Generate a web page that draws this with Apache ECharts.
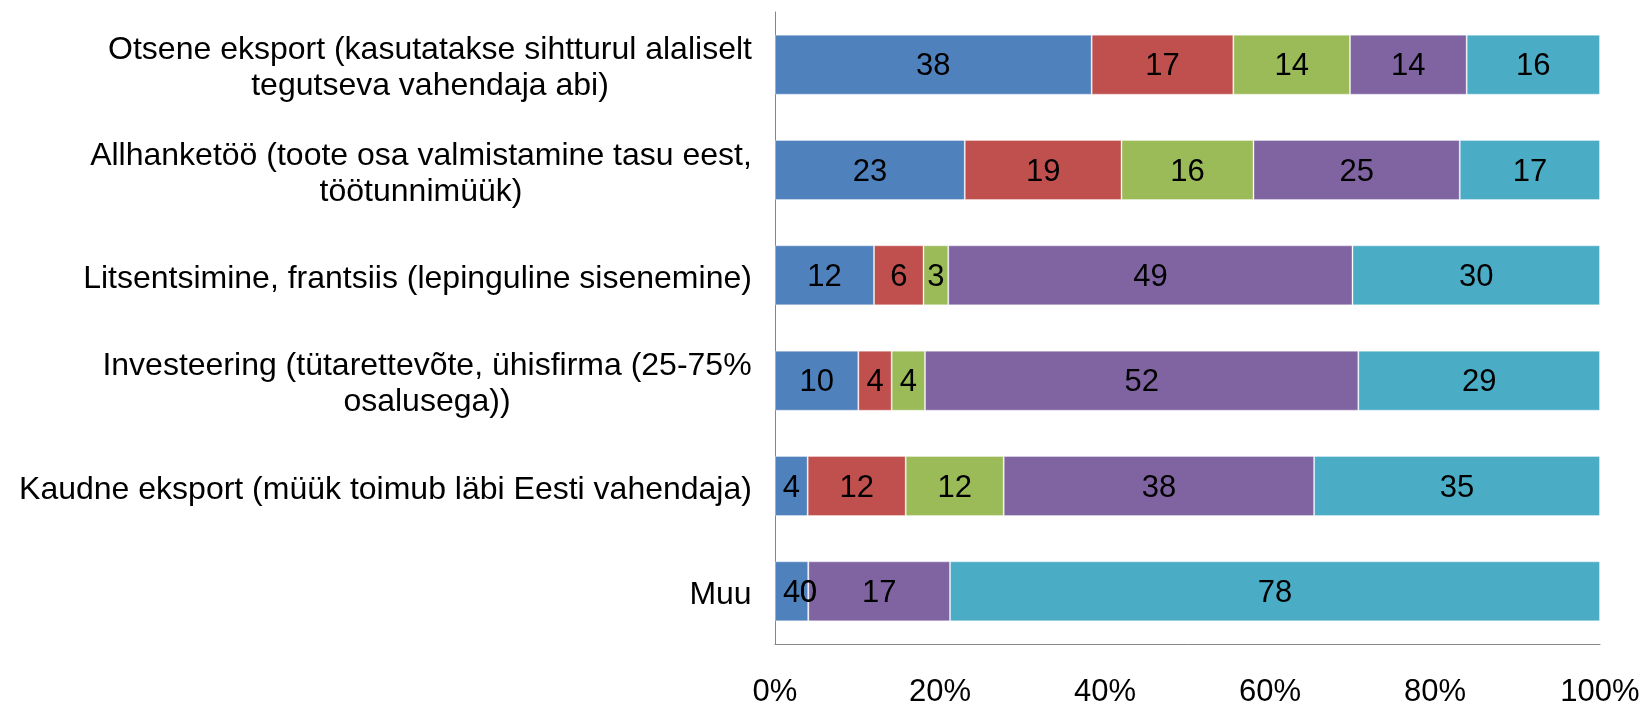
<!DOCTYPE html>
<html>
<head>
<meta charset="utf-8">
<script src="https://cdn.jsdelivr.net/npm/echarts@6/dist/echarts.min.js"></script>
<style>
  html, body { margin: 0; padding: 0; background: #fff; }
  #chart { width: 1644px; height: 708px; }
</style>
</head>
<body>
<div id="chart"></div>
<script>
// categories, top to bottom
const categories = [
  'Otsene eksport (kasutatakse sihtturul alaliselt\ntegutseva vahendaja abi)',
  'Allhanketöö (toote osa valmistamine tasu eest,\ntöötunnimüük)',
  'Litsentsimine, frantsiis (lepinguline sisenemine)',
  'Investeering (tütarettevõte, ühisfirma (25-75%\nosalusega))',
  'Kaudne eksport (müük toimub läbi Eesti vahendaja)',
  'Muu'
];

// stacked values per category (same order as categories)
const s1 = [38, 23, 12, 10, 4, 4];
const s2 = [17, 19, 6, 4, 12, 0];
const s3 = [14, 16, 3, 4, 12, 0];
const s4 = [14, 25, 49, 52, 38, 17];
const s5 = [16, 17, 30, 29, 35, 78];

const seriesNames = ['1', '2', '3', '4', '5'];
const colors = ['#4F81BD', '#C0504D', '#9BBB59', '#8064A2', '#4BACC6'];
const xTicks = [0, 20, 40, 60, 80, 100];

const FONT = '"Liberation Sans", Arial, sans-serif';
const FS_CAT = 32;
const FS = 31;

const allSeries = [s1, s2, s3, s4, s5];
const rowTotals = categories.map((_, i) => allSeries.reduce((a, s) => a + s[i], 0));

// measure each label's widest line so lines can be centred within the block
const ctx = document.createElement('canvas').getContext('2d');
ctx.font = FS_CAT + 'px ' + FONT;
const rich = {};
categories.forEach((c, i) => {
  const w = Math.max(...c.split('\n').map(l => ctx.measureText(l).width));
  rich['c' + i] = { width: Math.ceil(w), align: 'center', fontSize: FS_CAT, fontFamily: FONT, color: '#000', lineHeight: 36 };
});

const chart = echarts.init(document.getElementById('chart'));

chart.setOption({
  animation: false,
  backgroundColor: '#fff',
  grid: { left: 775, right: 44, top: 12, bottom: 61 },
  xAxis: {
    type: 'value',
    min: 0,
    max: 100,
    interval: 20,
    axisLine: { show: true, lineStyle: { color: '#868686', width: 1 } },
    axisTick: { show: false },
    splitLine: { show: false },
    axisLabel: {
      margin: 33,
      fontSize: FS,
      fontFamily: FONT,
      color: '#000',
      formatter: v => xTicks.includes(v) ? v + '%' : ''
    }
  },
  yAxis: {
    type: 'category',
    inverse: true,
    data: categories,
    axisLine: { show: true, lineStyle: { color: '#868686', width: 1 } },
    axisTick: { show: false },
    axisLabel: {
      margin: 23,
      align: 'right',
      padding: [8, 0, 0, 0],
      formatter: (v, i) => v.split('\n').map(l => '{c' + i + '|' + l + '}').join('\n'),
      rich
    }
  },
  series: allSeries.map((s, k) => ({
    name: seriesNames[k],
    type: 'bar',
    stack: 'total',
    barWidth: '57%',
    data: s.map((v, i) => ({ value: v / rowTotals[i] * 100, raw: v })),
    itemStyle: { color: colors[k], borderColor: 'rgba(255,255,255,0.35)', borderWidth: 1 },
    label: {
      show: true,
      position: 'inside',
      offset: [0, 2],
      fontSize: FS,
      fontFamily: FONT,
      color: '#000',
      formatter: p => String(p.data.raw)
    }
  }))
});
</script>
</body>
</html>
